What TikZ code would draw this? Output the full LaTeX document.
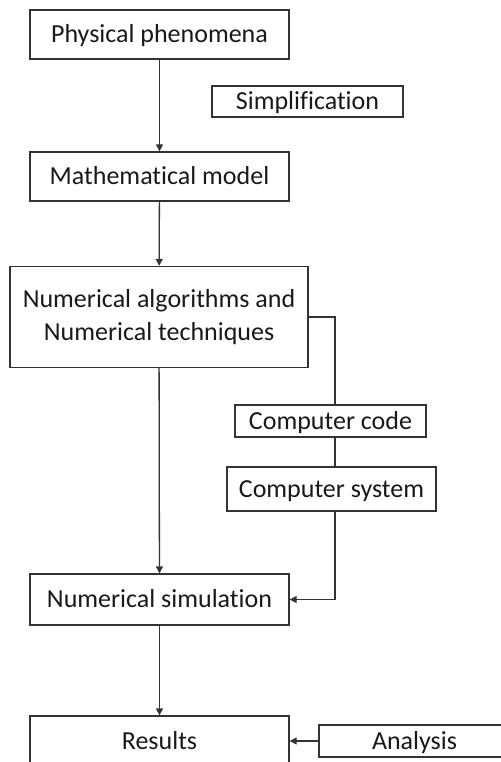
\documentclass[tikz,border=0pt]{standalone}
\usepackage{fontspec}
\setmainfont{Carlito}[RawFeature={-liga}]
\usetikzlibrary{arrows.meta}
\begin{document}
\begin{tikzpicture}[x=1pt,y=-1pt,
  box/.style={draw=black!80, line width=1.3pt, inner sep=0pt, align=center,
    font=\fontsize{26}{33}\selectfont, text=black!90},
  oneline/.style={box, text height=16pt, text depth=0pt},
  link/.style={draw=black!80, line width=1.3pt},
  arrow/.style={link, -{Triangle[length=7pt,width=7pt]}}]
\useasboundingbox (0,0) rectangle (500,762);
\node[oneline, minimum width=259pt, minimum height=49pt] (phys) at (159.5,34.5) {Physical phenomena};
\node[oneline, minimum width=191pt, minimum height=31pt] (simp) at (307.5,101.5) {Simplification};
\node[oneline, minimum width=259pt, minimum height=49pt] (math) at (159.5,176.5) {Mathematical model};
\node[box, minimum width=298pt, minimum height=101pt] (numalg) at (159,317) {Numerical algorithms and\\Numerical techniques};
\node[oneline, minimum width=191pt, minimum height=32pt] (code) at (330.5,421) {Computer code};
\node[oneline, minimum width=209pt, minimum height=44pt] (sys) at (331.5,489) {Computer system};
\node[oneline, minimum width=259pt, minimum height=51pt] (sim) at (159.5,599.5) {Numerical simulation};
\node[oneline, minimum width=259pt, minimum height=50pt] (res) at (159.5,741) {Results};
\node[oneline, minimum width=191pt, minimum height=32pt] (ana) at (414.5,741) {Analysis};
\coordinate (bend) at (335,317);
\draw[arrow] (phys) -- (math);
\draw[arrow] (math) -- (numalg);
\draw[arrow] (numalg) -- (sim);
\draw[link] (numalg.east) -- (bend) -- (bend |- code.north);
\draw[link] (bend |- code.south) -- (bend |- sys.north);
\draw[arrow] (bend |- sys.south) |- (sim.east);
\draw[arrow] (sim) -- (res);
\draw[arrow] (ana) -- (res);
\end{tikzpicture}
\end{document}
